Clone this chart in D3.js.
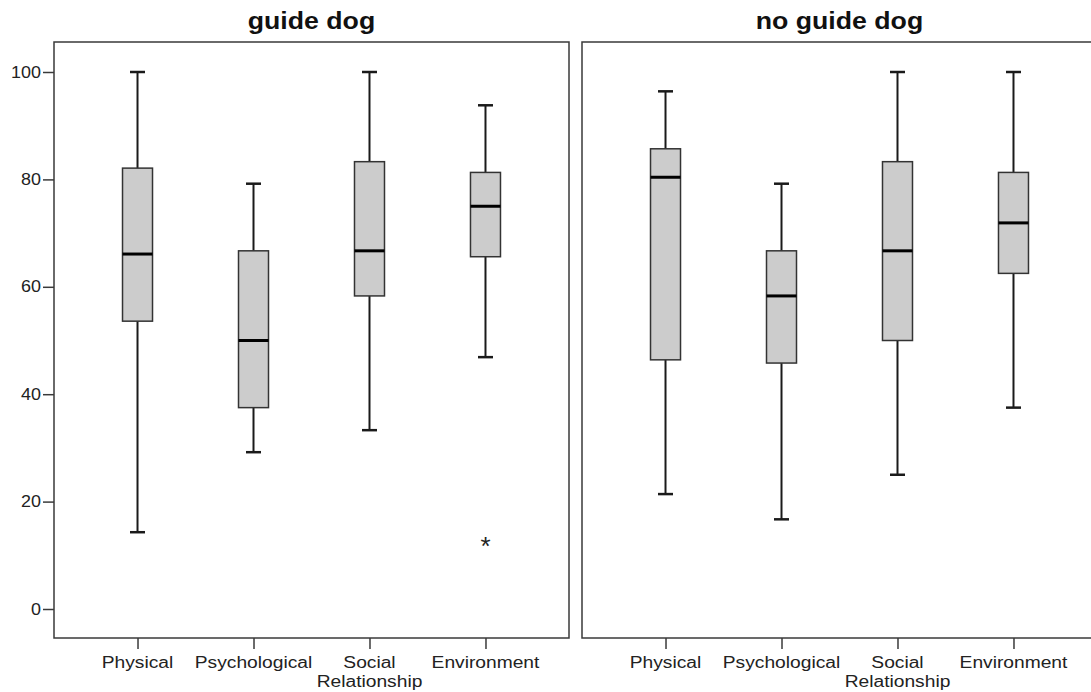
<!DOCTYPE html>
<html><head><meta charset="utf-8">
<script src="https://cdn.jsdelivr.net/npm/d3@7"></script>
<style>body{margin:0;background:#fff}svg{display:block}</style>
</head><body>
<svg id="c" width="1091" height="692"></svg>
<script>
const categories = ["Physical", "Psychological", "Social Relationship", "Environment"];
const panels = ["guide dog", "no guide dog"];
const yTicks = [0, 20, 40, 60, 80, 100];
// [min, q1, median, q3, max] per category
const guideDog = [
  [14.3, 53.6, 66.1, 82.1, 100],
  [29.2, 37.5, 50.0, 66.7, 79.2],
  [33.3, 58.3, 66.7, 83.3, 100],
  [46.9, 65.6, 75.0, 81.3, 93.8]
];
const noGuideDog = [
  [21.4, 46.4, 80.4, 85.7, 96.4],
  [16.7, 45.8, 58.3, 66.7, 79.2],
  [25.0, 50.0, 66.7, 83.3, 100],
  [37.5, 62.5, 71.9, 81.3, 100]
];
const guideDogOutliers = [{cat: "Environment", value: 12.5}];
const noGuideDogOutliers = [];

const svg = d3.select("#c");
const font = "'Liberation Sans', Arial, sans-serif";
const y = d3.scaleLinear().domain([0, 100]).range([609, 72]);
const frameTop = 42, frameBottom = 638;
const panelDefs = [
  {title: panels[0], x0: 54, x1: 569, data: guideDog, outliers: guideDogOutliers, yAxis: true},
  {title: panels[1], x0: 582, x1: 1097, data: noGuideDog, outliers: noGuideDogOutliers, yAxis: false}
];
const boxW = 30, capW = 15;

function widen(sel, f) {
  sel.each(function () {
    const len = this.getComputedTextLength();
    d3.select(this).attr("textLength", len * f).attr("lengthAdjust", "spacingAndGlyphs");
  });
}

panelDefs.forEach(p => {
  const g = svg.append("g");
  const x = d3.scalePoint().domain(categories).range([p.x0, p.x1]).padding(0.72);

  g.append("rect").attr("x", p.x0).attr("y", frameTop)
    .attr("width", p.x1 - p.x0).attr("height", frameBottom - frameTop)
    .attr("fill", "none").attr("stroke", "#3a3a3a").attr("stroke-width", 1.5);

  const title = g.append("text").attr("x", (p.x0 + p.x1) / 2).attr("y", 29)
    .attr("text-anchor", "middle").attr("font-family", font)
    .attr("font-weight", "bold").attr("font-size", 23).attr("fill", "#111")
    .text(p.title);
  widen(title, 1.16);

  if (p.yAxis) {
    const ax = g.append("g").attr("transform", `translate(${p.x0},0)`)
      .call(d3.axisLeft(y).tickValues(yTicks).tickSize(11).tickPadding(2).tickSizeOuter(0));
    ax.select(".domain").remove();
    ax.selectAll("line").attr("stroke", "#3a3a3a").attr("stroke-width", 1.5);
    ax.selectAll("text").attr("font-family", font).attr("font-size", 16).attr("fill", "#222");
    widen(ax.selectAll("text"), 1.12);
  }

  const xa = g.append("g").attr("transform", `translate(0,${frameBottom})`)
    .call(d3.axisBottom(x).tickSize(11).tickSizeOuter(0).tickFormat(""));
  xa.select(".domain").remove();
  xa.selectAll("line").attr("stroke", "#3a3a3a").attr("stroke-width", 1.5);
  categories.forEach(c => {
    const words = c.split(" ");
    words.forEach((w, i) => {
      const t = g.append("text").attr("x", x(c)).attr("y", 668 + i * 19)
        .attr("text-anchor", "middle").attr("font-family", font)
        .attr("font-size", 16).attr("fill", "#222").text(w);
      widen(t, 1.2);
    });
  });

  p.data.forEach((d, i) => {
    const cx = x(categories[i]);
    const [mn, q1, md, q3, mx] = d;
    const bg = g.append("g");
    bg.append("line").attr("x1", cx).attr("x2", cx).attr("y1", y(mx)).attr("y2", y(q3))
      .attr("stroke", "#1a1a1a").attr("stroke-width", 2);
    bg.append("line").attr("x1", cx).attr("x2", cx).attr("y1", y(q1)).attr("y2", y(mn))
      .attr("stroke", "#1a1a1a").attr("stroke-width", 2);
    [mn, mx].forEach(v => bg.append("line").attr("x1", cx - capW / 2).attr("x2", cx + capW / 2)
      .attr("y1", y(v)).attr("y2", y(v)).attr("stroke", "#1a1a1a").attr("stroke-width", 2.5));
    bg.append("rect").attr("x", cx - boxW / 2).attr("y", y(q3))
      .attr("width", boxW).attr("height", y(q1) - y(q3))
      .attr("fill", "#cccccc").attr("stroke", "#333").attr("stroke-width", 1.5);
    bg.append("line").attr("x1", cx - boxW / 2).attr("x2", cx + boxW / 2)
      .attr("y1", y(md)).attr("y2", y(md)).attr("stroke", "#000").attr("stroke-width", 3);
  });

  p.outliers.forEach(o => {
    g.append("text").attr("x", x(o.cat)).attr("y", y(o.value) + 13)
      .attr("text-anchor", "middle").attr("font-family", font)
      .attr("font-size", 26).attr("fill", "#222").text("*");
  });
});
</script>
</body></html>
